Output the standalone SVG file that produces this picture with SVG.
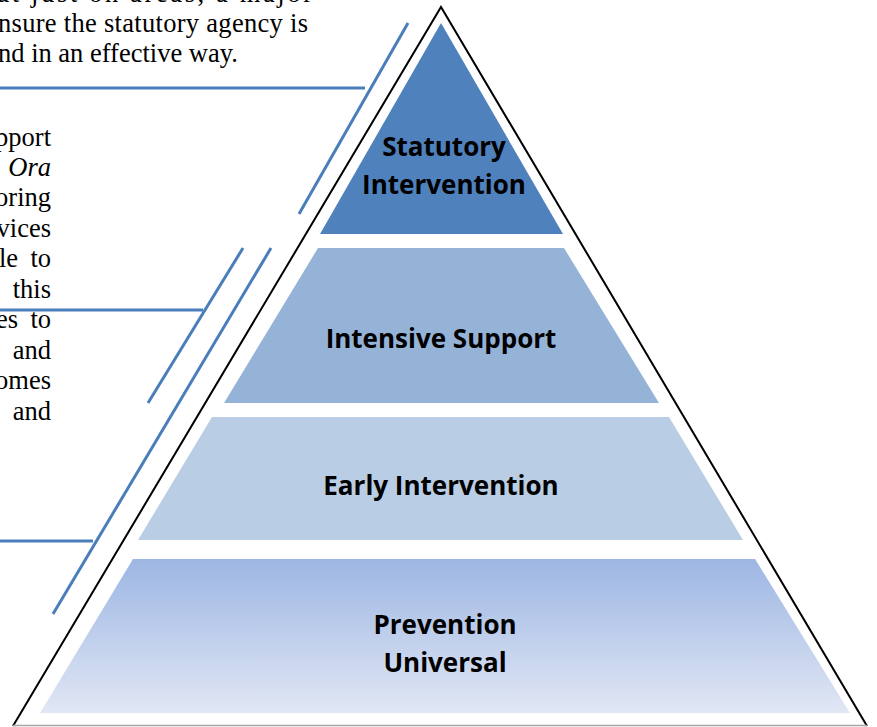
<svg xmlns="http://www.w3.org/2000/svg" width="877" height="727" viewBox="0 0 877 727">
<defs>
<linearGradient id="g4" x1="0" y1="0" x2="0" y2="1">
<stop offset="0" stop-color="#9db6e3"/>
<stop offset="1" stop-color="#e1e7f4"/>
</linearGradient>
</defs>
<style>
.body{font-family:"Liberation Serif","Times New Roman",serif;font-size:26.5px;fill:#000}
.lbl{font-family:"Open Sans","Liberation Sans",sans-serif;font-weight:bold;font-size:26px;fill:#000;text-anchor:middle}
.con{stroke:#4a7ebb;stroke-width:3;fill:none}
.edge{stroke:#000;stroke-width:2;fill:none}
</style>
<rect width="877" height="727" fill="#fff"/>
<g id="text-body" class="body">
<text x="-4" y="2" textLength="316" lengthAdjust="spacing">ut just on areas, a major</text>
<text x="-2" y="32" textLength="310" lengthAdjust="spacing">nsure the statutory agency is</text>
<text x="-2" y="62">nd in an effective way.</text>
<text x="51" y="146" text-anchor="end">pport</text>
<text x="51" y="176" text-anchor="end" font-style="italic">Ora</text>
<text x="51" y="206" text-anchor="end">oring</text>
<text x="51" y="237" text-anchor="end">vices</text>
<text x="-1" y="267">le</text><text x="51" y="267" text-anchor="end">to</text>
<text x="51" y="298" text-anchor="end">this</text>
<text x="-4" y="328">es</text><text x="51" y="328" text-anchor="end">to</text>
<text x="51" y="359" text-anchor="end">and</text>
<text x="51" y="389" text-anchor="end">omes</text>
<text x="51" y="420" text-anchor="end">and</text>
</g>
<g id="outline">
<path class="edge" d="M13,726 L441,7 L867,726"/>
<line x1="13" y1="725.5" x2="867" y2="725.5" stroke="#a6a6a6" stroke-width="1.5"/>
</g>
<g id="statutory">
<polygon points="441,23 563,234 320,234" fill="#4f81bd"/>
<text class="lbl" x="444" y="156">Statutory</text>
<text class="lbl" x="444" y="194">Intervention</text>
</g>
<g id="intensive">
<polygon points="318,248 564,248 659,403 224,403" fill="#95b3d7"/>
<text class="lbl" x="441" y="348">Intensive Support</text>
</g>
<g id="early">
<polygon points="212,417 669,417 743,540 138,540" fill="#b9cde5"/>
<text class="lbl" x="441" y="495">Early Intervention</text>
</g>
<g id="prevention">
<polygon points="133,559 755,559 850,713 40,713" fill="url(#g4)"/>
<text class="lbl" x="445" y="634">Prevention</text>
<text class="lbl" x="445" y="672">Universal</text>
</g>
<g id="connectors">
<line class="con" x1="0" y1="88" x2="365" y2="88"/>
<line class="con" x1="408" y1="23" x2="299" y2="214"/>
<line class="con" x1="0" y1="310" x2="203" y2="310"/>
<line class="con" x1="243" y1="248" x2="148" y2="403"/>
<line class="con" x1="271" y1="248" x2="53" y2="614"/>
<line class="con" x1="0" y1="541" x2="93" y2="541"/>
</g>
</svg>
